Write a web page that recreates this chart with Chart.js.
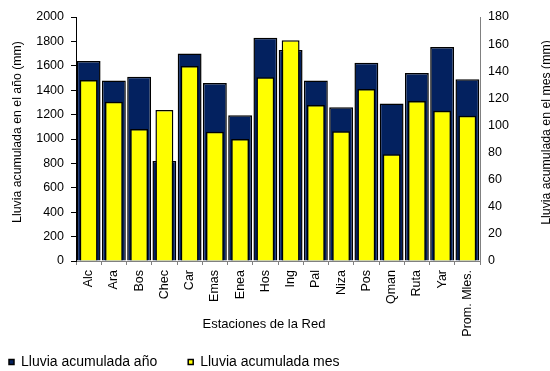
<!DOCTYPE html>
<html>
<head>
<meta charset="utf-8">
<script src="https://cdn.jsdelivr.net/npm/chart.js@4/dist/chart.umd.min.js"></script>
<style>
html,body{margin:0;padding:0;background:#fff;overflow:hidden;}
#wrap{width:550px;height:371px;position:relative;}
</style>
</head>
<body>
<div id="wrap"><canvas id="c" width="550" height="371"></canvas></div>
<script>
const estaciones = ['Alc','Ara','Bos','Chec','Car','Emas','Enea','Hos','Ing','Pal','Niza','Pos','Qman','Ruta','Yar','Prom. Mles.'];
const lluviaAnio = [1640,1480,1510,820,1700,1460,1195,1830,1730,1480,1260,1625,1290,1540,1755,1490];
const lluviaMes = [133.5,117.5,97.4,111.4,143.9,95.4,90,135.5,162.8,115,95.7,126.9,78.7,118,110.9,107.2];
const ticksAnio = [0,200,400,600,800,1000,1200,1400,1600,1800,2000];
const ticksMes = [0,20,40,60,80,100,120,140,160,180];
const tituloX = 'Estaciones de la Red';
const tituloY1 = 'Lluvia acumulada en el año (mm)';
const tituloY2 = 'Lluvia acumulada en el mes (mm)';
const serieAnio = 'Lluvia acumulada año';
const serieMes = 'Lluvia acumulada mes';

const FONT = "'Liberation Sans', Arial, sans-serif";
Chart.defaults.font.family = FONT;
Chart.defaults.color = '#000';

function shiftTitle(scale, dx, dy) {
  if (!scale || scale._wrappedTitle) return;
  const orig = scale.drawTitle.bind(scale);
  scale.drawTitle = function() {
    const l = this.left, r = this.right, t = this.top, b = this.bottom;
    this.left = l + dx; this.right = r + dx; this.top = t + dy; this.bottom = b + dy;
    orig();
    this.left = l; this.right = r; this.top = t; this.bottom = b;
  };
  scale._wrappedTitle = true;
}

const customPlugin = {
  id: 'custom',
  beforeDraw(chart) {
    const lg = chart.legend;
    if (lg) {
      lg.left = -22;
      lg.top = 324;
      lg.bottom = 371;
    }
    shiftTitle(chart.scales.x, -14, 0);
    shiftTitle(chart.scales.y, 0, -7);
  },
  afterDraw(chart) {
    const ctx = chart.ctx;
    const area = chart.chartArea;
    ctx.save();
    ctx.translate(547, (area.top + area.bottom) / 2 - 6.5);
    ctx.rotate(-Math.PI / 2);
    ctx.textAlign = 'center';
    ctx.textBaseline = 'middle';
    ctx.fillStyle = '#000';
    ctx.font = '12.3px ' + FONT;
    ctx.fillText(tituloY2, 0, 0);
    ctx.restore();
  }
};

new Chart(document.getElementById('c'), {
  type: 'bar',
  data: {
    labels: estaciones,
    datasets: [
      {
        label: serieAnio,
        data: lluviaAnio,
        yAxisID: 'y',
        backgroundColor: '#03215F',
        borderColor: '#000',
        borderWidth: 1.5,
        grouped: false,
        categoryPercentage: 1,
        barPercentage: 0.945,
        order: 2
      },
      {
        label: serieMes,
        data: lluviaMes,
        yAxisID: 'y2',
        backgroundColor: '#FFFF00',
        borderColor: '#000',
        borderWidth: 1.5,
        grouped: false,
        categoryPercentage: 1,
        barPercentage: 0.71,
        order: 1
      }
    ]
  },
  options: {
    responsive: false,
    animation: false,
    devicePixelRatio: 1,
    layout: { padding: { top: 17, left: 0, right: 0, bottom: 0 } },
    plugins: {
      tooltip: { enabled: false },
      legend: {
        position: 'bottom',
        align: 'start',
        maxHeight: 30,
        labels: {
          boxWidth: 5,
          boxHeight: 5,
          padding: 31,
          font: { size: 14, family: FONT },
          color: '#000',
          sort: (a, b) => a.datasetIndex - b.datasetIndex
        }
      }
    },
    scales: {
      x: {
        offset: true,
        grid: { display: true, drawOnChartArea: false, drawTicks: true, tickLength: 4, color: '#808080', offset: true },
        border: { display: true, color: '#808080', width: 1 },
        ticks: { autoSkip: false, maxRotation: 90, minRotation: 90, padding: 5, font: { size: 12.5, family: FONT }, color: '#000' },
        title: { display: true, text: tituloX, font: { size: 13, family: FONT }, color: '#000', padding: { top: 0, bottom: 9.2 } },
        afterFit(s) { s.height = 80; }
      },
      y: {
        position: 'left',
        min: 0, max: 2000,
        afterBuildTicks(s) { s.ticks = ticksAnio.map(v => ({ value: v })); },
        grid: { display: true, drawOnChartArea: false, drawTicks: true, tickLength: 5, color: '#000' },
        border: { display: true, color: '#000', width: 1 },
        ticks: { padding: 7, font: { size: 12.5, family: FONT }, color: '#000', callback: v => String(v) },
        title: { display: true, text: tituloY1, font: { size: 12.3, family: FONT }, color: '#000', padding: { top: 10.5, bottom: 0 } },
        afterFit(s) { s.width = 76; }
      },
      y2: {
        position: 'right',
        min: 0, max: 180,
        afterBuildTicks(s) { s.ticks = ticksMes.map(v => ({ value: v })); },
        grid: { display: true, drawOnChartArea: false, drawTicks: false, color: '#808080' },
        border: { display: true, color: '#808080', width: 1 },
        ticks: { padding: 8, font: { size: 12.5, family: FONT }, color: '#000', callback: v => String(v) },
        title: { display: false },
        afterFit(s) { s.width = 70; }
      }
    }
  },
  plugins: [customPlugin]
});
</script>
</body>
</html>
